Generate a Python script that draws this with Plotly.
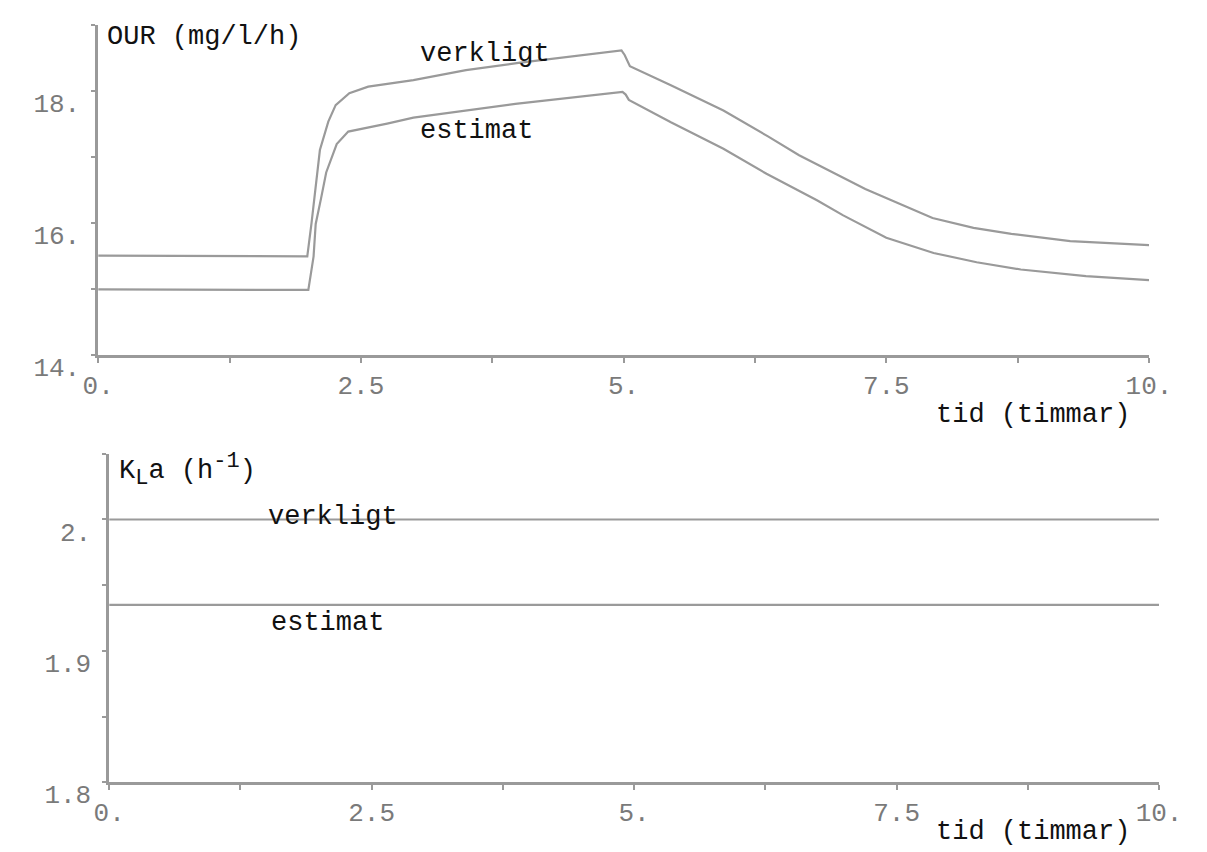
import plotly.graph_objects as go

# ---- data ----
t_our_verk = [0, 1.99, 2.03, 2.08, 2.11, 2.19, 2.26, 2.39, 2.57, 3.0, 3.5, 4.0, 4.5, 4.98,
              5.01, 5.06, 5.45, 5.95, 6.37, 6.67, 7.3, 7.94, 8.33, 8.69, 9.25, 10.0]
our_verk = [15.51, 15.50, 16.0, 16.67, 17.11, 17.54, 17.79, 17.97, 18.07, 18.17, 18.32, 18.43, 18.53, 18.62,
            18.55, 18.38, 18.09, 17.71, 17.32, 17.03, 16.52, 16.08, 15.93, 15.84, 15.73, 15.67]

t_our_est = [0, 2.0, 2.05, 2.07, 2.12, 2.17, 2.27, 2.38, 2.75, 3.0, 3.97, 4.5, 4.99,
             5.02, 5.05, 5.45, 5.95, 6.36, 6.84, 7.09, 7.5, 7.95, 8.36, 8.78, 9.4, 10.0]
our_est = [15.0, 14.99, 15.5, 15.99, 16.37, 16.77, 17.20, 17.39, 17.51, 17.6, 17.81, 17.9, 17.99,
           17.95, 17.87, 17.53, 17.13, 16.75, 16.35, 16.12, 15.78, 15.55, 15.41, 15.30, 15.20, 15.14]

t_kla = [0, 2.5, 5, 7.5, 10]
kla_verk = [2.0, 2.0, 2.0, 2.0, 2.0]
kla_est = [1.935, 1.935, 1.935, 1.935, 1.935]

x_tickvals = [0, 2.5, 5, 7.5, 10]
x_ticktext = ["0.", "2.5", "5.", "7.5", "10."]
x_minor = [1.25, 3.75, 6.25, 8.75]
our_tickvals = [14, 16, 18]
our_ticktext = ["14.", "16.", "18."]
our_minor = [15, 17, 19]
kla_tickvals = [1.8, 1.9, 2.0]
kla_ticktext = ["1.8", "1.9", "2."]
kla_minor = [1.85, 1.95, 2.05]

LINE = "#9a9a9a"
FONT = "Liberation Mono"
TICKCOL = "#7a7a7a"

X_RANGE = [0, 10]
TOP_XDOM, TOP_YDOM, TOP_YR = [0.0635, 0.9632], [0.578, 0.979], [14, 19]
BOT_XDOM, BOT_YDOM, BOT_YR = [0.0729, 0.9718], [0.0593, 0.4583], [1.8, 2.05]


def to_paper(xv, yv, xdom, ydom, yr):
    px = xdom[0] + (xv - X_RANGE[0]) / (X_RANGE[1] - X_RANGE[0]) * (xdom[1] - xdom[0])
    py = ydom[0] + (yv - yr[0]) / (yr[1] - yr[0]) * (ydom[1] - ydom[0])
    return px, py


fig = go.Figure()
fig.add_trace(go.Scatter(x=t_our_verk, y=our_verk, mode="lines", line=dict(color=LINE, width=2.2),
                         xaxis="x", yaxis="y", showlegend=False))
fig.add_trace(go.Scatter(x=t_our_est, y=our_est, mode="lines", line=dict(color=LINE, width=2.2),
                         xaxis="x", yaxis="y", showlegend=False))
fig.add_trace(go.Scatter(x=t_kla, y=kla_verk, mode="lines", line=dict(color=LINE, width=2.2),
                         xaxis="x2", yaxis="y2", showlegend=False))
fig.add_trace(go.Scatter(x=t_kla, y=kla_est, mode="lines", line=dict(color=LINE, width=2.2),
                         xaxis="x2", yaxis="y2", showlegend=False))

minor_style = dict(ticks="outside", ticklen=5, tickwidth=2, tickcolor=LINE, showgrid=False)
xax = dict(range=X_RANGE, showgrid=False, zeroline=False, showline=True, linecolor=LINE, linewidth=2.5,
           ticks="outside", ticklen=5, tickwidth=2, tickcolor=LINE,
           tickvals=x_tickvals, ticktext=x_ticktext,
           minor=dict(minor_style, tickvals=x_minor),
           tickfont=dict(family=FONT, size=26, color=TICKCOL))
yax = dict(showgrid=False, zeroline=False, showline=True, linecolor=LINE, linewidth=2.5,
           ticks="outside", ticklen=4, tickwidth=2, tickcolor=LINE, ticklabelshift=12,
           ticklabelstandoff=6,
           tickfont=dict(family=FONT, size=26, color=TICKCOL))

fig.update_layout(
    width=1207, height=852, margin=dict(l=0, r=0, t=0, b=0),
    paper_bgcolor="white", plot_bgcolor="white",
    xaxis=dict(xax, domain=TOP_XDOM, anchor="y"),
    yaxis=dict(yax, domain=TOP_YDOM, range=TOP_YR, anchor="x",
               tickvals=our_tickvals, ticktext=our_ticktext,
               minor=dict(minor_style, ticklen=4, tickvals=our_minor)),
    xaxis2=dict(xax, domain=BOT_XDOM, anchor="y2"),
    yaxis2=dict(yax, domain=BOT_YDOM, range=BOT_YR, anchor="x2",
                tickvals=kla_tickvals, ticktext=kla_ticktext,
                minor=dict(minor_style, ticklen=4, tickvals=kla_minor)),
)

tf = dict(family=FONT, size=27, color="#111111")
labels = [
    ("top", 3.68, 18.57, "verkligt", "center"),
    ("top", 3.60, 17.40, "estimat", "center"),
    ("top", 8.90, 13.10, "tid (timmar)", "center"),
    ("bot", 2.13, 2.0016, "verkligt", "center"),
    ("bot", 2.08, 1.9215, "estimat", "center"),
    ("bot", 8.80, 1.762, "tid (timmar)", "center"),
]
ann = []
for panel, xv, yv, txt, xa in labels:
    if panel == "top":
        px, py = to_paper(xv, yv, TOP_XDOM, TOP_YDOM, TOP_YR)
    else:
        px, py = to_paper(xv, yv, BOT_XDOM, BOT_YDOM, BOT_YR)
    ann.append(dict(x=px, y=py, xref="paper", yref="paper", text=txt, xanchor=xa, yanchor="middle",
                    showarrow=False, font=tf))

# axis titles placed at the top of each y axis
ann.append(dict(x=84 / 1207, y=1 - 30 / 852, xref="paper", yref="paper", text="OUR (mg/l/h)",
                xanchor="left", yanchor="middle", showarrow=False, font=tf))
ann.append(dict(x=96 / 1207, y=1 - 478 / 852, xref="paper", yref="paper",
                text="K<sub><span style='font-size:22px'>L</span></sub>a (h<sup><span style='font-size:22px'>-1</span></sup>)",
                xanchor="left", yanchor="middle", showarrow=False, font=tf))
fig.update_layout(annotations=ann)

fig.write_html("out.html")
